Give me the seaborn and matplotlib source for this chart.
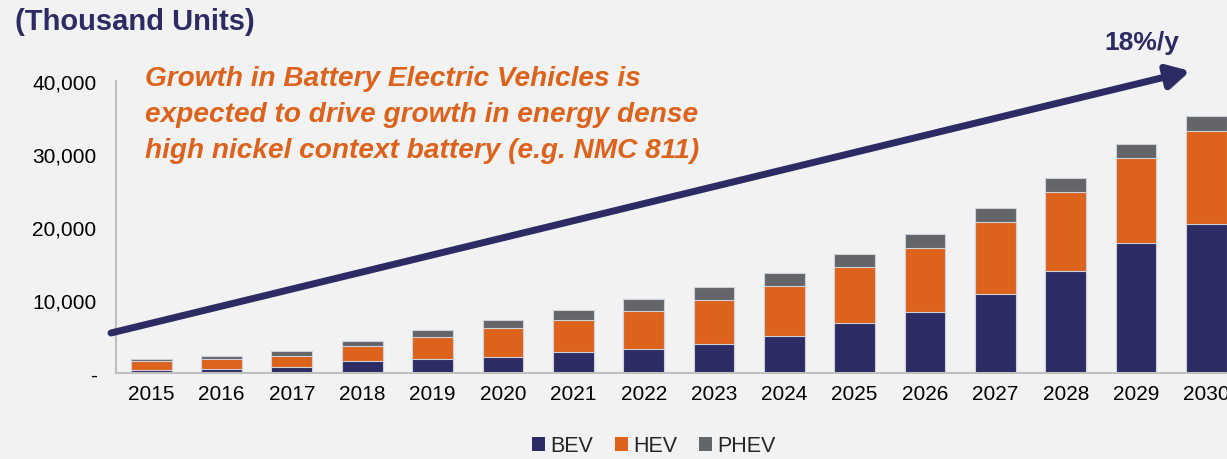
import pandas as pd
import seaborn as sns
import matplotlib.pyplot as plt
import matplotlib.patheffects as pe
from matplotlib.ticker import FuncFormatter
from matplotlib.patches import Patch

years = [str(y) for y in range(2015, 2031)]
bev = [450, 550, 870, 1640, 1960, 2240, 2920, 3330, 3970, 5110, 6800, 8400, 10820, 14020, 17760, 20360]
hev = [1230, 1370, 1500, 2010, 2930, 3920, 4380, 5120, 6070, 6770, 7680, 8680, 9860, 10820, 11740, 12750]
phev = [240, 450, 640, 690, 960, 1050, 1330, 1690, 1700, 1860, 1820, 1920, 1970, 1870, 1910, 2090]
series_names = ["BEV", "HEV", "PHEV"]

navy = "#2d2b63"
orange = "#dd631c"
grey = "#636569"
bg = "#f2f2f2"

df = pd.DataFrame({"year": years, "BEV": bev, "HEV": hev, "PHEV": phev})
df["bev_top"] = df["BEV"]
df["hev_top"] = df["BEV"] + df["HEV"]
df["phev_top"] = df["hev_top"] + df["PHEV"]

sns.set_theme(style="white")
plt.rcParams["font.family"] = ["Liberation Sans", "DejaVu Sans"]

fig = plt.figure(figsize=(12.27, 4.6), dpi=100, facecolor=bg)
ax = fig.add_axes([116 / 1227, 1 - 374 / 460, 1125.6 / 1227, 292 / 460])
ax.set_facecolor(bg)

# stacked bars drawn as overlapping cumulative totals
for col, c in [("phev_top", grey), ("hev_top", orange), ("bev_top", navy)]:
    sns.barplot(data=df, x="year", y=col, color=c, saturation=1, width=0.58,
                edgecolor="#d0d0d8", linewidth=0.8, ax=ax)

ax.set_ylim(0, 40000)
ax.set_xlim(-0.5, 15.5)
ax.set_yticks([0, 10000, 20000, 30000, 40000])
ax.yaxis.set_major_formatter(FuncFormatter(lambda v, p: "-" if v == 0 else f"{v:,.0f}"))
ax.set_xlabel("")
ax.set_ylabel("")
ax.tick_params(axis="y", length=0, pad=14, labelsize=15, labelcolor="black")
ax.tick_params(axis="x", length=0, pad=8, labelsize=15, labelcolor="black")
for s in ["top", "right"]:
    ax.spines[s].set_visible(False)
for s in ["left", "bottom"]:
    ax.spines[s].set_color("#bfbfbf")
    ax.spines[s].set_linewidth(1.5)

fig.text(15 / 1227, 1 - 22 / 460, "(Thousand Units)", fontsize=21, fontweight="bold",
         color=navy, ha="left", va="center")

fig.text(145 / 1227, 1 - 115 / 460,
         "Growth in Battery Electric Vehicles is\nexpected to drive growth in energy dense\nhigh nickel context battery (e.g. NMC 811)",
         fontsize=20.2, fontweight="bold", style="italic", color=orange,
         ha="left", va="center", linespacing=1.5)

arrow = ax.annotate("", xy=(1190, 460 - 72), xytext=(111, 460 - 334),
                    xycoords="figure pixels", textcoords="figure pixels",
                    arrowprops=dict(arrowstyle="-|>,head_length=1.1,head_width=0.6",
                                    color=navy, lw=5, shrinkA=0, shrinkB=0),
                    annotation_clip=False)
arrow.arrow_patch.set_path_effects([pe.SimplePatchShadow(offset=(2, -2), alpha=0.25), pe.Normal()])

fig.text(1142 / 1227, 1 - 43 / 460, "18%/y", fontsize=19, fontweight="bold",
         color=navy, ha="center", va="center")

handles = [Patch(facecolor=c, edgecolor="none", label=n)
           for n, c in zip(series_names, [navy, orange, grey])]
fig.legend(handles=handles, loc="center", bbox_to_anchor=(654 / 1227, 1 - 447 / 460),
           ncol=3, frameon=False, fontsize=15.5, handlelength=0.6, handleheight=0.6,
           handletextpad=0.25, columnspacing=1.0)

fig.savefig("out.png", dpi=100, facecolor=bg)
